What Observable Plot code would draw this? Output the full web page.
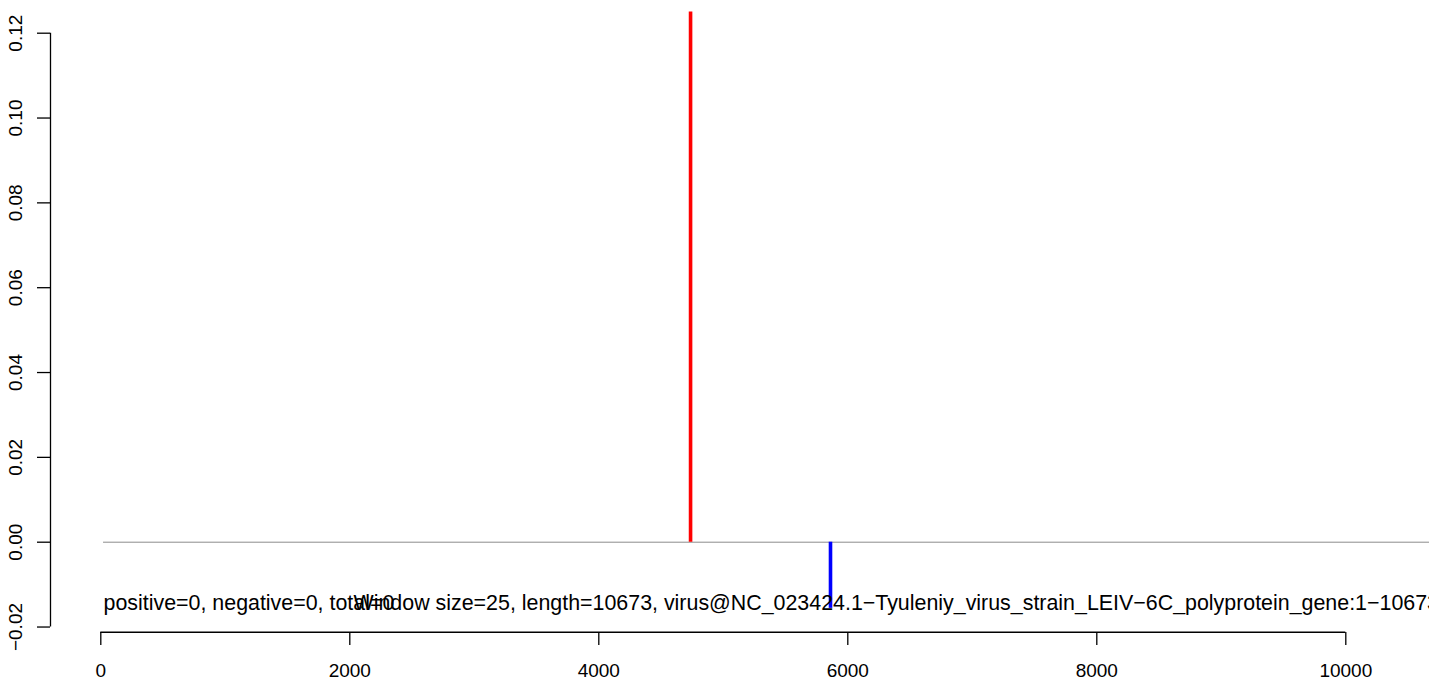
<!DOCTYPE html>
<html>
<head>
<meta charset="utf-8">
<script src="https://cdn.jsdelivr.net/npm/d3@7"></script>
<script src="https://cdn.jsdelivr.net/npm/@observablehq/plot@0.6"></script>
<style>
  html, body { margin: 0; padding: 0; background: #fff; overflow: hidden; }
  #chart svg { max-width: none !important; display: block; }
</style>
</head>
<body>
<div id="chart"></div>
<script>
// ---- data ----
const xTicks = [0, 2000, 4000, 6000, 8000, 10000];
const yTicks = [-0.02, 0.00, 0.02, 0.04, 0.06, 0.08, 0.10, 0.12];
const peakStrands = ["positive", "negative"];
const peakPositions = [4737, 5861];
const peakValues = [0.125, -0.0156];
const baselineStart = 22;
const genomeLength = 10673;
const noteTexts = [
  "positive=0, negative=0, total=0",
  "Window size=25, length=10673, virus@NC_023424.1\u2212Tyuleniy_virus_strain_LEIV\u22126C_polyprotein_gene:1\u221210673"
];
const noteX = [22, 2030];
const noteY = [-0.0144, -0.0144];

// ---- derived tables ----
const peaks = peakPositions.map((x, i) => ({x, v: peakValues[i], strand: peakStrands[i]}));
const notes = noteTexts.map((t, i) => ({t, x: noteX[i], y: noteY[i]}));
// R-style 4% extended user region for axis lines
const xmin = baselineStart, xmax = genomeLength;
const ymin = d3.min(peakValues), ymax = d3.max(peakValues);
const usrLeft = xmin - 0.04 * (xmax - xmin);
const usrBottom = ymin - 0.04 * (ymax - ymin);
const fmtY = d => d.toFixed(2).replace("-", "\u2212");

const W = 1429, H = 678;
const chart = Plot.plot({
  width: W,
  height: H,
  marginLeft: 50,
  marginBottom: 46,
  marginTop: 0,
  marginRight: 0,
  style: {fontFamily: "'Liberation Sans', Arial, Helvetica, sans-serif", background: "#fff", overflow: "hidden"},
  x: {domain: [0, 10000], range: [100.3, 1345.3]},
  y: {domain: [0, 0.12], range: [541.7, 32.7]},
  color: {domain: ["positive", "negative"], range: ["#ff0000", "#0000ff"]},
  marks: [
    // baseline
    Plot.ruleY([0], {x1: baselineStart, x2: genomeLength, stroke: "#8c8c8c", strokeWidth: 1}),
    // peaks
    Plot.ruleX(peaks, {x: "x", y1: 0, y2: "v", stroke: "strand", strokeWidth: 3.6}),
    // annotation texts
    Plot.text(notes, {x: "x", y: "y", text: "t", textAnchor: "start", lineAnchor: "middle", fontSize: 21.4, fill: "#000"}),
    // y axis
    Plot.ruleX([usrLeft], {y1: yTicks[0], y2: yTicks[yTicks.length - 1], stroke: "#000", strokeWidth: 1.3}),
    Plot.axisY({anchor: "left", ticks: yTicks, tickSize: 13, tickFormat: () => "", stroke: "#000", strokeWidth: 1.3, label: null}),
    Plot.text(yTicks, {y: d => d, frameAnchor: "left", dx: -35, rotate: -90, text: fmtY, fontSize: 19, fill: "#000", textAnchor: "middle", lineAnchor: "middle"}),
    // x axis
    Plot.ruleY([usrBottom], {x1: xTicks[0], x2: xTicks[xTicks.length - 1], stroke: "#000", strokeWidth: 1.3}),
    Plot.axisX({anchor: "bottom", ticks: xTicks, tickSize: 13, tickFormat: () => "", stroke: "#000", strokeWidth: 1.3, label: null}),
    Plot.text(xTicks, {x: d => d, frameAnchor: "bottom", dy: 38, text: d => String(d), fontSize: 19, fill: "#000", lineAnchor: "middle"})
  ]
});
document.getElementById("chart").appendChild(chart);
</script>
</body>
</html>
